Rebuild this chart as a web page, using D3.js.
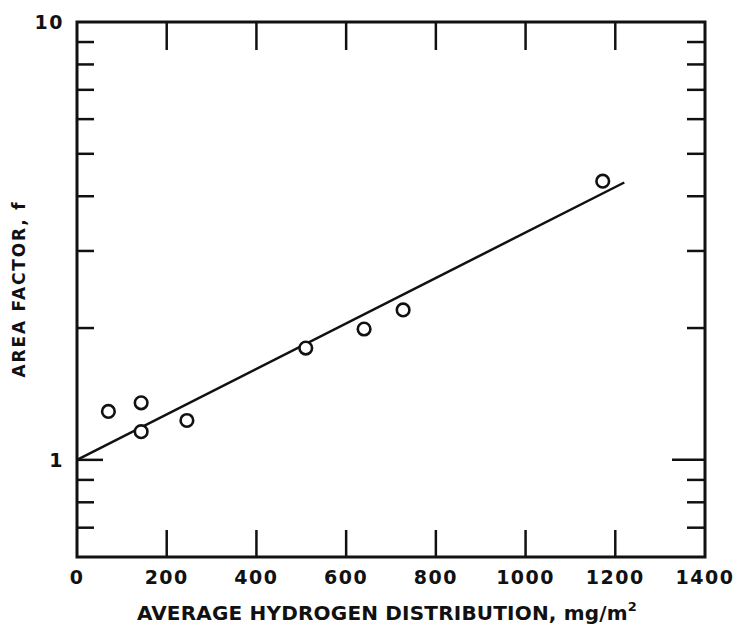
<!DOCTYPE html>
<html>
<head>
<meta charset="utf-8">
<script src="https://cdn.jsdelivr.net/npm/d3@7"></script>
<style>
  html, body { margin: 0; padding: 0; background: #fff; }
  svg text { font-family: "DejaVu Sans", "Liberation Sans", sans-serif; font-weight: bold; fill: #111; }
</style>
</head>
<body>
<svg id="chart" width="733" height="625"></svg>
<script>
// ---- data ----
const xTickValues = [0, 200, 400, 600, 800, 1000, 1200, 1400];
const xTickLabels = ["0", "200", "400", "600", "800", "1000", "1200", "1400"];
const yMajorTicks = [1, 10];
const yMajorLabels = ["1", "10"];
const yMinorTicks = [0.7, 0.8, 0.9, 2, 3, 4, 5, 6, 7, 8, 9];
const hydrogen = [70, 143, 143, 245, 510, 640, 727, 1172];
const areaFactor = [1.29, 1.35, 1.16, 1.23, 1.80, 1.99, 2.20, 4.33];
const fitHydrogen = [0, 1220];
const fitFactor = [1.0, 4.3];
const xTitle = "AVERAGE HYDROGEN DISTRIBUTION, mg/m";
const yTitle = "AREA FACTOR, f";

// ---- layout ----
const L = 77, R = 705, T = 22, B = 557;
const svg = d3.select("#chart");
const x = d3.scaleLinear().domain([0, 1400]).range([L, R]);
const y = d3.scaleLog().domain([0.6, 10]).range([B, T]);
const ink = "#111";

// frame
svg.append("rect").attr("x", L).attr("y", T).attr("width", R - L).attr("height", B - T)
  .attr("fill", "none").attr("stroke", ink).attr("stroke-width", 3);

// x ticks (top and bottom, inner)
const xInner = xTickValues.filter(v => v > 0 && v < 1400);
svg.selectAll(".xtb").data(xInner).enter().append("line")
  .attr("x1", d => x(d)).attr("x2", d => x(d)).attr("y1", B).attr("y2", B - 27)
  .attr("stroke", ink).attr("stroke-width", 2.5);
svg.selectAll(".xtt").data(xInner).enter().append("line")
  .attr("x1", d => x(d)).attr("x2", d => x(d)).attr("y1", T).attr("y2", T + 28)
  .attr("stroke", ink).attr("stroke-width", 2.5);

// y ticks
const yInner = yMinorTicks.concat([1]);
svg.selectAll(".ytl").data(yInner).enter().append("line")
  .attr("x1", L).attr("x2", d => L + (d === 1 ? 26 : 17))
  .attr("y1", d => y(d)).attr("y2", d => y(d))
  .attr("stroke", ink).attr("stroke-width", 2.5);
svg.selectAll(".ytr").data(yInner).enter().append("line")
  .attr("x1", R).attr("x2", d => R - (d === 1 ? 33 : 18))
  .attr("y1", d => y(d)).attr("y2", d => y(d))
  .attr("stroke", ink).attr("stroke-width", 2.5);

// x tick labels
svg.selectAll(".xl").data(xTickValues).enter().append("text")
  .attr("x", d => x(d)).attr("y", 584)
  .attr("text-anchor", "middle").attr("font-size", 19)
  .attr("letter-spacing", 1.5)
  .text((d, i) => xTickLabels[i]);

// y tick labels
svg.selectAll(".yl").data(yMajorTicks).enter().append("text")
  .attr("x", 64).attr("y", d => y(d) + 7)
  .attr("text-anchor", "end").attr("font-size", 19)
  .attr("letter-spacing", 1.5)
  .text((d, i) => yMajorLabels[i]);

// fit line
const line = d3.line().x(d => x(d[0])).y(d => y(d[1]));
svg.append("path").datum(fitHydrogen.map((v, i) => [v, fitFactor[i]]))
  .attr("d", line).attr("fill", "none").attr("stroke", ink).attr("stroke-width", 2.5);

// points
svg.selectAll(".pt").data(hydrogen).enter().append("circle")
  .attr("cx", d => x(d)).attr("cy", (d, i) => y(areaFactor[i])).attr("r", 6.3)
  .attr("fill", "#fff").attr("stroke", ink).attr("stroke-width", 2.6);

// x title
const xt = svg.append("text").attr("x", 387).attr("y", 620)
  .attr("text-anchor", "middle").attr("font-size", 20);
xt.append("tspan").text(xTitle);
xt.append("tspan").attr("dy", -9).attr("font-size", 13).text("2");
{
  const natural = xt.node().getComputedTextLength();
  const n = xTitle.length + 1;
  const ls = (500 - natural) / (n - 1);
  xt.attr("letter-spacing", ls);
}

// y title
const yt = svg.append("text").attr("transform", "translate(25,289) rotate(-90)")
  .attr("text-anchor", "middle").attr("font-size", 17).text(yTitle);
{
  const natural = yt.node().getComputedTextLength();
  const ls = (175 - natural) / (yTitle.length - 1);
  yt.attr("letter-spacing", ls);
}
</script>
</body>
</html>
